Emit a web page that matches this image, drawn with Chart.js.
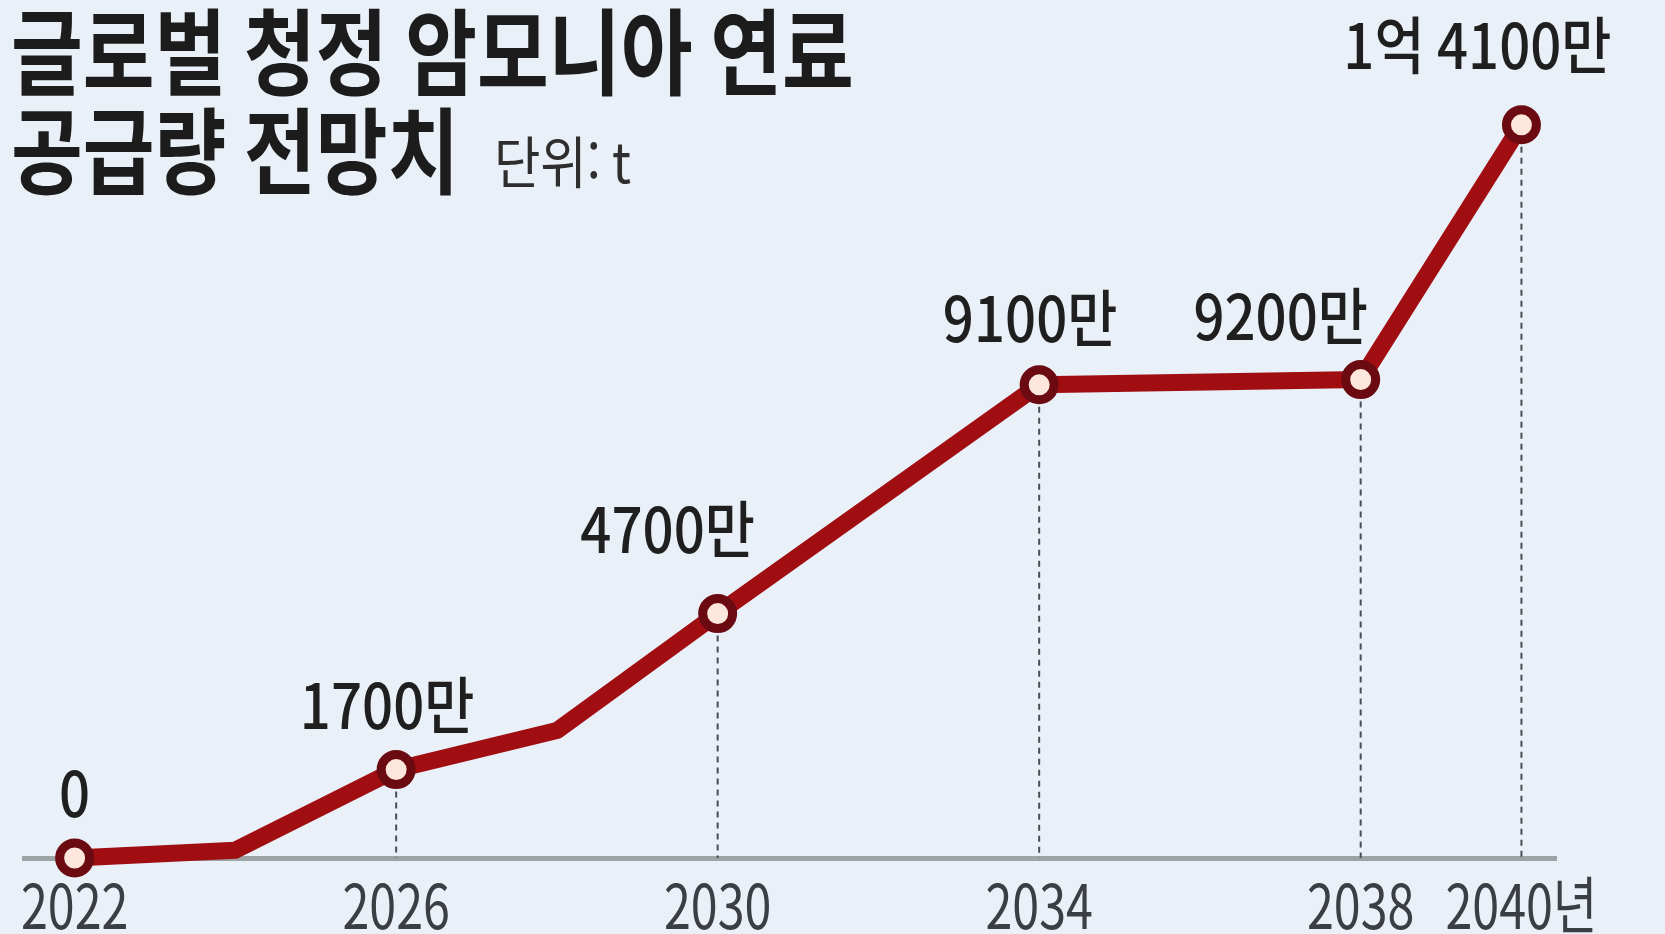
<!DOCTYPE html>
<html lang="ko">
<head>
<meta charset="utf-8">
<title>글로벌 청정 암모니아 연료 공급량 전망치</title>
<script src="https://cdn.jsdelivr.net/npm/chart.js@4.4.1/dist/chart.umd.min.js"></script>
<style>
  html, body { margin: 0; padding: 0; background: #e9f0f8; }
  #wrap { width: 1665px; height: 934px; }
</style>
</head>
<body>
<div id="wrap"><canvas id="ammoniaChart" width="1665" height="934"></canvas></div>
<script>
// 연도별 공급량 (단위: 만 t)
const years = [2022, 2024, 2026, 2028, 2030, 2034, 2038, 2040];
const supply = [0, 150, 1700, 2450, 4700, 9100, 9200, 14100];
const valueLabels = ['0', '', '1700만', '', '4700만', '9100만', '9200만', '1억 4100만'];
const tickYears = [2022, 2026, 2030, 2034, 2038, 2040];

const titleLines = ['글로벌 청정 암모니아 연료', '공급량 전망치'];
const unitText = '단위: t';

// label nudges [dx, dy] in px, so the numbers sit where the print has them
const labelNudge = [[0, -41], [0, 0], [-9, -41], [0, 0], [-50, -61], [-9, -43], [-80, -40], [-44, -56]];

const KR = '"Noto Sans CJK KR", "Noto Sans", sans-serif';

const tickText = v => v === 2040 ? v + '년' : String(v);

// draws horizontally squeezed text (the print uses a condensed gothic)
function squeezeText(ctx, text, x, y, sx, align) {
  ctx.save();
  ctx.translate(x, y);
  ctx.scale(sx, 1);
  ctx.textAlign = align;
  ctx.textBaseline = 'alphabetic';
  ctx.fillText(text, 0, 0);
  ctx.restore();
}

const overlay = {
  id: 'overlay',
  beforeDatasetsDraw(chart) {
    const ctx = chart.ctx;
    const meta = chart.getDatasetMeta(0);
    const base = chart.scales.y.getPixelForValue(0);
    ctx.save();
    ctx.strokeStyle = '#4a4d52';
    ctx.lineWidth = 2;
    ctx.setLineDash([6, 5]);
    meta.data.forEach((pt, i) => {
      if (!valueLabels[i] || i === 0) return;
      ctx.beginPath();
      ctx.moveTo(pt.x, pt.y);
      ctx.lineTo(pt.x, base);
      ctx.stroke();
    });
    ctx.restore();
  },
  afterDraw(chart) {
    const ctx = chart.ctx;
    const meta = chart.getDatasetMeta(0);
    const xs = chart.scales.x;

    // year ticks, from the x scale
    ctx.fillStyle = '#3b3e42';
    ctx.font = '400 62px ' + KR;
    xs.ticks.forEach(t => {
      squeezeText(ctx, tickText(t.value), xs.getPixelForValue(t.value), 929, 0.78, 'center');
    });

    // value labels
    ctx.fillStyle = '#1f1f1f';
    ctx.font = '500 62px ' + KR;
    meta.data.forEach((pt, i) => {
      if (!valueLabels[i]) return;
      squeezeText(ctx, valueLabels[i], pt.x + labelNudge[i][0], pt.y + labelNudge[i][1], 0.88, 'center');
    });

    // title + unit
    ctx.fillStyle = '#1c1c1c';
    ctx.font = 'bold 94px ' + KR;
    squeezeText(ctx, titleLines[0], 11, 88, 0.83, 'left');
    squeezeText(ctx, titleLines[1], 11, 187, 0.83, 'left');
    ctx.fillStyle = '#2e2e2e';
    ctx.font = '400 56px ' + KR;
    squeezeText(ctx, unitText, 494, 183, 0.9, 'left');
  }
};

new Chart(document.getElementById('ammoniaChart'), {
  type: 'line',
  data: {
    datasets: [{
      data: years.map((y, i) => ({ x: y, y: supply[i] })),
      borderColor: '#a00e12',
      borderWidth: 17,
      borderJoinStyle: 'round',
      borderCapStyle: 'round',
      pointRadius: valueLabels.map(t => t ? 15 : 0),
      pointBorderWidth: 9,
      pointBackgroundColor: '#fde7dd',
      pointBorderColor: '#6c0a11',
      clip: false,
      tension: 0
    }]
  },
  options: {
    responsive: false,
    devicePixelRatio: 1,
    animation: false,
    layout: { padding: { left: 21, right: 109, top: 26, bottom: 0 } },
    plugins: {
      legend: { display: false },
      tooltip: { enabled: false },
      title: { display: false }
    },
    scales: {
      x: {
        type: 'linear',
        min: 2021.37,
        max: 2040.43,
        afterBuildTicks: s => { s.ticks = tickYears.map(v => ({ value: v })); },
        afterFit: s => { s.height = 76; },
        grid: { color: 'transparent', drawTicks: false },
        border: { display: true, color: '#9ea3a6', width: 5 },
        ticks: { display: false, autoSkip: false }
      },
      y: { display: false, min: 0, max: 16000 }
    }
  },
  plugins: [overlay]
});
</script>
</body>
</html>
